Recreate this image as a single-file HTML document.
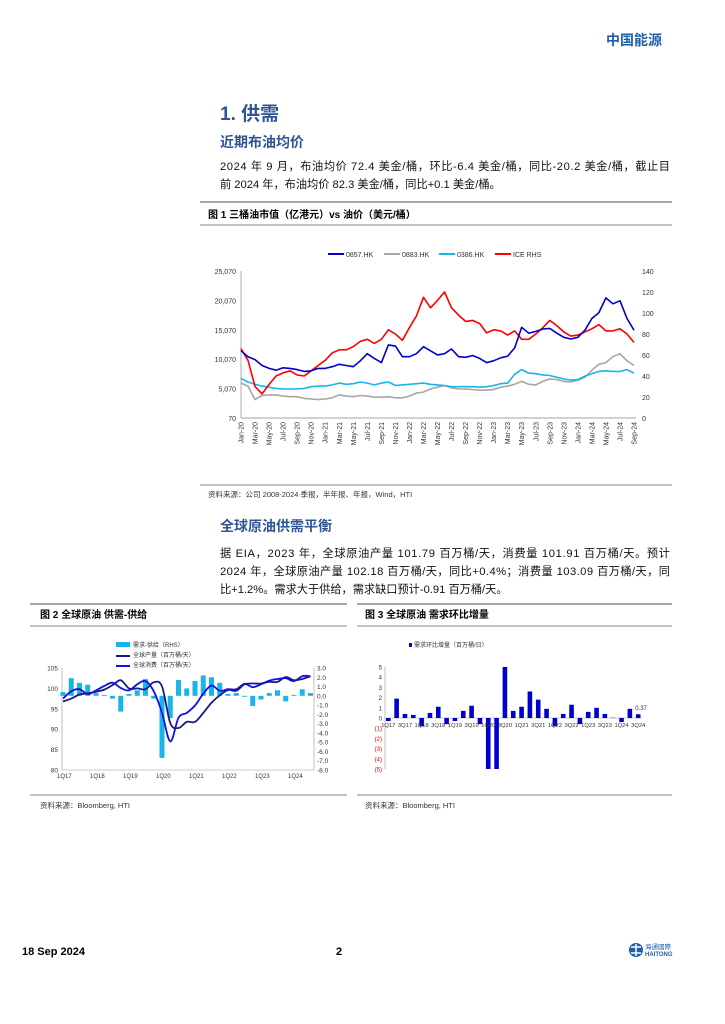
<!DOCTYPE html>
<html><head><meta charset="utf-8"><style>
html,body{margin:0;padding:0;background:#fff;}
svg{display:block;font-family:"Liberation Sans","Noto Sans CJK SC",sans-serif;}
.cn{font-family:"Liberation Sans","Noto Sans CJK SC",sans-serif;}
</style></head><body>
<svg id="page" width="725" height="1024" viewBox="0 0 725 1024">
<text x="662" y="45" text-anchor="end" font-size="14" font-weight="bold" fill="#1f5fa8">中国能源</text>
<text x="220" y="120" font-size="19" font-weight="bold" fill="#2f5597">1. 供需</text>
<text x="220" y="147" font-size="14" font-weight="bold" fill="#2f5597">近期布油均价</text>
<text x="220" y="170" font-size="11.2" fill="#111" textLength="450">2024 年 9 月，布油均价 72.4 美金/桶，环比-6.4 美金/桶，同比-20.2 美金/桶，截止目</text>
<text x="220" y="188" font-size="11.2" fill="#111">前 2024 年，布油均价 82.3 美金/桶，同比+0.1 美金/桶。</text>
<line x1="200" y1="202" x2="672" y2="202" stroke="#888" stroke-width="1.5"/>
<text x="208" y="218" font-size="10" font-weight="bold" fill="#000">图 1 三桶油市值（亿港元）vs 油价（美元/桶）</text>
<line x1="200" y1="225" x2="672" y2="225" stroke="#888" stroke-width="1"/>
<g id="chart1"></g>
<line x1="200" y1="485" x2="672" y2="485" stroke="#888" stroke-width="1"/>
<text x="208" y="497" font-size="7.5" fill="#333">资料来源：公司 2008-2024 季报，半年报、年报，Wind，HTI</text>
<text x="220" y="531" font-size="14" font-weight="bold" fill="#2f5597">全球原油供需平衡</text>
<text x="220" y="557" font-size="11.2" fill="#111" textLength="450">据 EIA，2023 年，全球原油产量 101.79 百万桶/天，消费量 101.91 百万桶/天。预计</text>
<text x="220" y="575" font-size="11.2" fill="#111" textLength="450">2024 年，全球原油产量 102.18 百万桶/天，同比+0.4%；消费量 103.09 百万桶/天，同</text>
<text x="220" y="593" font-size="11.2" fill="#111">比+1.2%。需求大于供给，需求缺口预计-0.91 百万桶/天。</text>
<line x1="30" y1="604" x2="347" y2="604" stroke="#888" stroke-width="1.5"/>
<line x1="357" y1="604" x2="672" y2="604" stroke="#888" stroke-width="1.5"/>
<text x="40" y="618" font-size="10" font-weight="bold">图 2 全球原油 供需-供给</text>
<text x="365" y="618" font-size="10" font-weight="bold">图 3 全球原油 需求环比增量</text>
<line x1="30" y1="626" x2="347" y2="626" stroke="#888" stroke-width="1"/>
<line x1="357" y1="626" x2="672" y2="626" stroke="#888" stroke-width="1"/>
<g id="chart2"></g>
<g id="chart3"></g>
<line x1="30" y1="795" x2="347" y2="795" stroke="#888" stroke-width="1"/>
<line x1="357" y1="795" x2="672" y2="795" stroke="#888" stroke-width="1"/>
<text x="40" y="808" font-size="7.5" fill="#333">资料来源：Bloomberg, HTI</text>
<text x="365" y="808" font-size="7.5" fill="#333">资料来源：Bloomberg, HTI</text>
<text x="22" y="955" font-size="11" font-weight="bold">18 Sep 2024</text>
<text x="336" y="955" font-size="11" font-weight="bold">2</text>
<g>
<circle cx="636" cy="950" r="7" fill="#1f5fa8"/>
<path d="M631 947h10M631 953h10M636 944v12" stroke="#fff" stroke-width="1.5"/>
<text x="645" y="949" font-size="6.5" fill="#1f5fa8">海通國際</text>
<text x="645" y="956" font-size="6" font-weight="bold" fill="#1f5fa8">HAITONG</text>
</g>
</svg>
<script>
var NS='http://www.w3.org/2000/svg';
function mk(tag,attrs,parent){var e=document.createElementNS(NS,tag);for(var k in attrs)e.setAttribute(k,attrs[k]);parent.appendChild(e);return e;}

// ---------- Chart 1 data ----------
var c1Months=['Jan-20','Mar-20','May-20','Jul-20','Sep-20','Nov-20','Jan-21','Mar-21','May-21','Jul-21','Sep-21','Nov-21','Jan-22','Mar-22','May-22','Jul-22','Sep-22','Nov-22','Jan-23','Mar-23','May-23','Jul-23','Sep-23','Nov-23','Jan-24','Mar-24','May-24','Jul-24','Sep-24'];
var c1LeftTicks=[70,5070,10070,15070,20070,25070];
var c1RightTicks=[0,20,40,60,80,100,120,140];
var s0857=[11500,10500,10000,9000,8500,8200,8600,8500,8300,8000,8100,8500,8500,8800,9200,9000,8800,9800,11000,10200,9500,12500,12300,10500,10500,11000,12200,11500,10800,11000,11800,10500,10400,10700,10200,9500,9800,10300,10600,12000,15500,14500,14800,15200,15300,14500,13800,13500,13800,15000,17000,18000,20500,19500,20000,17000,15000];
var s0883=[6000,5500,3200,3900,4000,4000,3800,3700,3700,3400,3300,3200,3300,3500,4000,3800,3700,3900,3800,3600,3600,3700,3500,3500,3800,4300,4500,5000,5300,5600,5200,5000,5000,4900,4800,4800,4900,5300,5500,5800,6300,5800,5700,6300,6700,6600,6300,6200,6500,7000,8200,9200,9500,10500,11000,9800,9000];
var s0386=[6800,6200,5800,5500,5300,5100,5000,5000,5000,5100,5400,5500,5500,5700,6000,5800,5900,6200,6000,5700,6000,6200,5600,5700,5800,5900,6000,5800,5700,5600,5400,5400,5400,5400,5300,5400,5600,5900,6000,7500,8300,7700,7600,7400,7300,7000,6700,6500,6600,7200,7600,8000,8100,8000,8000,8300,7700];
var sICE=[66,55,30,23,32,40,43,45,41,40,45,50,55,62,65,65,68,73,75,71,75,84,80,74,86,97,115,105,112,120,105,98,92,93,90,81,84,83,79,83,75,75,80,86,93,88,82,78,79,82,85,89,83,83,85,80,72];
var c1Names=['0857.HK','0883.HK','0386.HK','ICE RHS'];

(function(){
 var g=document.getElementById('chart1');
 var L=241,R=634,T=271,B=418;
 function xs(i){return L+i*(R-L)/56;}
 function yl(v){return B-(v-70)/25000*(B-T);}
 function yr(v){return B-v/140*(B-T);}
 var ax=mk('line',{x1:L,y1:T,x2:L,y2:B,stroke:'#888','stroke-width':0.7},g);
 
 
 var bx=mk('line',{x1:L,y1:B,x2:R+2,y2:B,stroke:'#888','stroke-width':0.7},g);
 
 
 c1LeftTicks.forEach(function(v){var t=mk('text',{x:L-5,y:yl(v)+3,'font-size':7,'text-anchor':'end',fill:'#333'},g);t.textContent=v.toLocaleString('en-US');
  
  });
 c1RightTicks.forEach(function(v){var t=mk('text',{x:R+8,y:yr(v)+3,'font-size':7,fill:'#333'},g);t.textContent=v;
  
  });
 c1Months.forEach(function(m,i){var x=xs(i*2);var t=mk('text',{x:0,y:0,'font-size':7,'text-anchor':'end',fill:'#333',transform:'translate('+(x+2.5)+','+(B+4)+') rotate(-90)'},g);t.textContent=m;
  
  });
 var series=[[s0883,'#a6a6a6',yl],[s0386,'#19b5ea',yl],[sICE,'#ff0000',yr],[s0857,'#0000c8',yl]];
 series.forEach(function(s){var d=s[0].map(function(v,i){return (i?'L':'M')+xs(i).toFixed(1)+' '+s[2](v).toFixed(1);}).join('');
  var p=mk('path',{d:d,fill:'none',stroke:s[1],'stroke-width':1.6,'stroke-linejoin':'round'},g);
  
  });
 var lx=[328,384,439,495],cols=['#0000c8','#a6a6a6','#19b5ea','#ff0000'];
 c1Names.forEach(function(n,i){var l=mk('line',{x1:lx[i],y1:254,x2:lx[i]+16,y2:254,stroke:cols[i],'stroke-width':2},g);
  
  
  var t=mk('text',{x:lx[i]+18,y:257,'font-size':7,fill:'#333'},g);t.textContent=n;
  
  });
})();

// ---------- Chart 2 data ----------
var c2Quarters=['1Q17','1Q18','1Q19','1Q20','1Q21','1Q22','1Q23','1Q24'];
var c2LeftTicks=[80,85,90,95,100,105];
var c2RightTicks=[-8,-7,-6,-5,-4,-3,-2,-1,0,1,2,3];
var c2Gap=[0.4,1.9,1.4,1.2,0.3,0.1,-0.3,-1.7,0.2,0.6,1.8,-0.3,-6.7,-2.4,1.7,0.8,1.6,2.2,2.0,1.4,0.2,0.3,-0.1,-1.1,-0.4,0.3,0.6,-0.6,0.1,0.7,0.3];
var c2Prod=[96.8,97.5,98.5,98.8,99.2,99.7,100.8,102,100,100,99.8,101.5,100.5,91.5,90.3,91.8,91.8,94,96.5,98.3,99.6,99.4,101,101.2,101.2,101.6,101.6,102.8,102,102.3,103];
var c2Cons=[97.5,99.3,99.8,98.6,99.5,100.6,101.4,100.1,99.5,101,101.8,99.3,94,87,92.8,94,95.8,98.7,100.7,99.4,99.8,99.8,101.1,100.3,101.0,101.9,102.3,102.5,101.8,103.0,103.0];
var c2Legend=['需求-供给（RHS）','全球产量（百万桶/天）','全球消费（百万桶/天）'];

function smooth(pts){var d='M'+pts[0][0].toFixed(1)+' '+pts[0][1].toFixed(1);
 for(var i=0;i<pts.length-1;i++){var p0=pts[i-1]||pts[i],p1=pts[i],p2=pts[i+1],p3=pts[i+2]||p2;
  d+='C'+(p1[0]+(p2[0]-p0[0])/6).toFixed(1)+' '+(p1[1]+(p2[1]-p0[1])/6).toFixed(1)+' '+(p2[0]-(p3[0]-p1[0])/6).toFixed(1)+' '+(p2[1]-(p3[1]-p1[1])/6).toFixed(1)+' '+p2[0].toFixed(1)+' '+p2[1].toFixed(1);}
 return d;}

(function(){
 var g=document.getElementById('chart2');
 var L=62,R=314,T=668,B=770,step=8.25,x0=63;
 function xs(i){return x0+i*step;}
 function yl(v){return B-(v-80)/25*(B-T);}
 function yr(v){return B-(v+8)/11*(B-T);}
 [[L,'left-y-axis'],[R,'right-y-axis']].forEach(function(a){var l=mk('line',{x1:a[0],y1:T,x2:a[0],y2:B,stroke:'#999','stroke-width':0.6},g);
  
  });
 var bl=mk('line',{x1:L,y1:B,x2:R,y2:B,stroke:'#999','stroke-width':0.6},g);
 
 
 c2LeftTicks.forEach(function(v){var t=mk('text',{x:L-4,y:yl(v)+2.5,'font-size':6.5,'text-anchor':'end',fill:'#333'},g);t.textContent=v;
  
  });
 c2RightTicks.forEach(function(v){var t=mk('text',{x:R+3,y:yr(v)+2.5,'font-size':6.5,fill:'#333'},g);t.textContent=v.toFixed(1);
  
  });
 c2Quarters.forEach(function(q,i){var t=mk('text',{x:xs(i*4)-6,y:B+8,'font-size':6,fill:'#333'},g);t.textContent=q;
  
  });
 c2Gap.forEach(function(v,i){var y0=yr(0),y1=yr(v);var r=mk('rect',{x:xs(i)-2.5,y:Math.min(y0,y1),width:5,height:Math.abs(y1-y0),fill:'#19b5ea'},g);
  
  });
 var p1=mk('path',{d:smooth(c2Prod.map(function(v,i){return [xs(i),yl(v)];})),fill:'none',stroke:'#1a1a80','stroke-width':1.8},g);
 
 
 var p2=mk('path',{d:smooth(c2Cons.map(function(v,i){return [xs(i),yl(v)];})),fill:'none',stroke:'#1010e0','stroke-width':1.8},g);
 
 
 var sw=mk('rect',{x:116,y:642,width:14,height:5,fill:'#19b5ea'},g);
 
 
 var s2=mk('line',{x1:116,y1:656,x2:130,y2:656,stroke:'#1a1a80','stroke-width':2},g);
 
 
 var s3=mk('line',{x1:116,y1:666,x2:130,y2:666,stroke:'#1010e0','stroke-width':2},g);
 
 
 c2Legend.forEach(function(n,i){var t=mk('text',{x:133,y:647+i*10,'font-size':6,fill:'#333'},g);t.textContent=n;
  
  });
})();

// ---------- Chart 3 data ----------
var c3Quarters=['1Q17','2Q17','3Q17','4Q17','1Q18','2Q18','3Q18','4Q18','1Q19','2Q19','3Q19','4Q19','1Q20','2Q20','3Q20','4Q20','1Q21','2Q21','3Q21','4Q21','1Q22','2Q22','3Q22','4Q22','1Q23','2Q23','3Q23','4Q23','1Q24','2Q24','3Q24'];
var c3Values=[-0.3,1.9,0.4,0.3,-0.8,0.5,1.1,-0.6,-0.3,0.7,1.2,-0.6,-6.5,-7.5,5.5,0.7,1.1,2.6,1.8,0.9,-0.8,0.4,1.3,-0.6,0.6,1.0,0.4,0.02,-0.4,0.9,0.37];
var c3Ticks=[-5,-4,-3,-2,-1,0,1,2,3,4,5];

(function(){
 var g=document.getElementById('chart3');
 var L=385,T=667,B=769,x0=388.3,step=8.33;
 function xs(i){return x0+i*step;}
 function y(v){v=Math.max(-5,Math.min(5,v));return 718-v/5*(718-T);}
 var ax=mk('line',{x1:L,y1:T,x2:L,y2:B,stroke:'#999','stroke-width':0.6},g);
 
 
 var zx=mk('line',{x1:L,y1:718,x2:xs(30)+4,y2:718,stroke:'#999','stroke-width':0.6},g);
 
 
 c3Ticks.forEach(function(v){var t=mk('text',{x:L-3,y:y(v)+2.5,'font-size':6,'text-anchor':'end',fill:v<0?'#e00':'#333'},g);t.textContent=v<0?'('+(-v)+')':v;
  
  });
 c3Values.forEach(function(v,i){var a=y(0),b=y(v);var r=mk('rect',{x:xs(i)-2.3,y:Math.min(a,b),width:4.6,height:Math.max(0.3,Math.abs(b-a)),fill:'#0000cc'},g);
  
  });
 c3Quarters.forEach(function(q,i){if(i%2)return;var t=mk('text',{x:xs(i),y:727,'font-size':5.8,'text-anchor':'middle',fill:'#333'},g);t.textContent=q;
  
  });
 var last=c3Values.length-1;
 var vl=mk('text',{x:xs(last)-3,y:y(c3Values[last])-4,'font-size':6,fill:'#333'},g);vl.textContent=c3Values[last].toFixed(2);
 
 
 var sw=mk('rect',{x:409,y:643,width:3,height:4,fill:'#0000cc'},g);
 
 
 var lt=mk('text',{x:414,y:647,'font-size':6,fill:'#333'},g);lt.textContent='需求环比增量（百万桶/日）';
 
 
})();
</script>
</body></html>
